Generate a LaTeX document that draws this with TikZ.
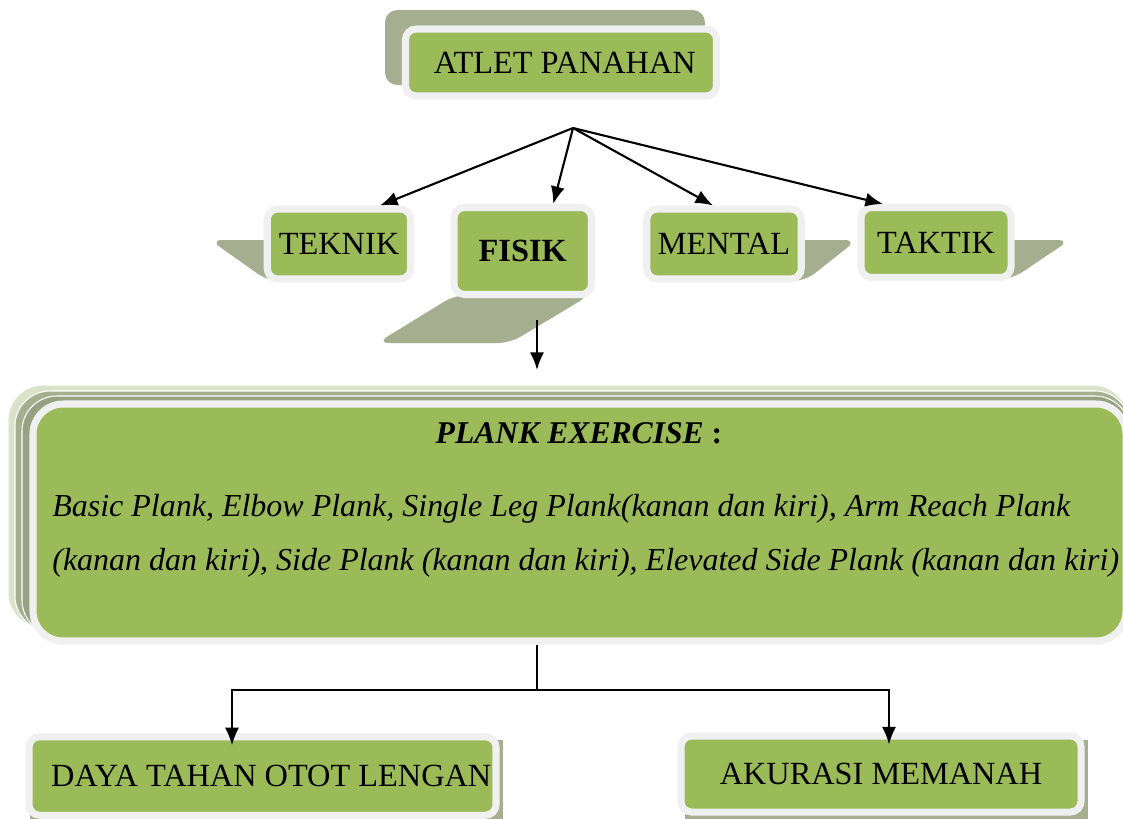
\documentclass[tikz,border=0pt]{standalone}
\usepackage{fontspec}
\setmainfont{Liberation Serif}
\usepackage{tikz}
\usetikzlibrary{arrows.meta}
\definecolor{leaf}{HTML}{9BBB59}
\definecolor{ring}{HTML}{F0F0F0}
\definecolor{moss}{HTML}{A5AE8F}
\definecolor{mossdark}{HTML}{98A283}
\definecolor{pale}{HTML}{DAE2C9}

\begin{document}
\begin{tikzpicture}[
	greenbox/.style={draw=ring, fill=leaf, line width=4pt, rounded corners=6pt, inner sep=0, align=center, font=\fontsize{18.4}{22}\selectfont},
	shadowfill/.style={fill=moss, rounded corners=7pt},
	layer/.style={draw=white, line width=0.6pt, rounded corners=0.7cm},
	arr/.style={-{Latex[length=10pt,width=8pt]}, line width=1.2pt}
]
\useasboundingbox (0,0) rectangle (22.46,-16.36);

% shadows behind the boxes
\fill[shadowfill] (7.7,-0.2) rectangle (14.1,-1.7);
\fill[shadowfill] (4.2,-4.8) -- (8.0,-4.8) -- (8.2,-5.62) -- (5.36,-5.62) -- cycle;
\fill[shadowfill] (9.1,-5.9) -- (11.8,-5.9) -- (10.2,-6.86) -- (7.54,-6.86) -- cycle;
\fill[shadowfill] (13.6,-4.8) -- (17.14,-4.8) -- (16.1,-5.62) -- (13.2,-5.62) -- cycle;
\fill[shadowfill] (17.8,-4.8) -- (21.4,-4.8) -- (20.24,-5.58) -- (17.5,-5.58) -- cycle;
\fill[moss] (0.6,-14.8) rectangle (10.05,-16.45);
\fill[moss] (13.7,-14.8) rectangle (21.76,-16.45);

% stacked layers behind plank box
\filldraw[layer, fill=pale] (0.16,-7.70) rectangle (22.56,-12.56);
\filldraw[layer, fill=moss] (0.30,-7.82) rectangle (22.60,-12.62);
\filldraw[layer, fill=mossdark] (0.44,-7.92) rectangle (22.60,-12.70);

\node[greenbox, minimum width=6.22cm, minimum height=1.34cm] (atlet) at (11.22,-1.25) {\hspace{0.15cm}ATLET PANAHAN};

\node[greenbox, minimum width=2.87cm, minimum height=1.40cm] (teknik) at (6.78,-4.88) {TEKNIK};
\node[greenbox, minimum width=2.75cm, minimum height=1.74cm, font=\fontsize{18.4}{22}\selectfont\bfseries] (fisik) at (10.455,-5.02) {FISIK};
\node[greenbox, minimum width=3.09cm, minimum height=1.40cm] (mental) at (14.48,-4.88) {MENTAL};
\node[greenbox, minimum width=3.0cm, minimum height=1.40cm] (taktik) at (18.72,-4.85) {TAKTIK};

\node[greenbox, rounded corners=0.6cm, minimum width=21.86cm, minimum height=4.74cm] (plank) at (11.59,-10.45) {};
\node[font=\fontsize{18}{20}\selectfont] (planktitle) at (11.58,-8.66) {\textbf{\textit{PLANK EXERCISE}} \textbf{:}};
\node[anchor=west, align=left, inner sep=0, font=\fontsize{18.2}{30.6}\selectfont\itshape] (plankbody) at (1.04,-10.72)
	{Basic Plank, Elbow Plank, Single Leg Plank(kanan dan kiri), Arm Reach Plank\\
	(kanan dan kiri), Side Plank (kanan dan kiri), Elevated Side Plank (kanan dan kiri)};

\node[greenbox, minimum width=9.34cm, minimum height=1.57cm] (daya) at (5.25,-15.52) {\hspace{0.35cm}DAYA TAHAN OTOT LENGAN};
\node[greenbox, minimum width=8.0cm, minimum height=1.52cm] (akurasi) at (17.62,-15.48) {AKURASI MEMANAH};

% connectors
\coordinate (split) at (11.46,-2.56);
\draw[arr] (split) -- ([xshift=0.82cm]teknik.north);
\draw[arr] (split) -- ([xshift=0.61cm]fisik.north);
\draw[arr] (split) -- ([xshift=-0.22cm]mental.north);
\draw[arr] (split) -- ([xshift=-1.06cm]taktik.north);

\coordinate (fdrop) at (10.74,-6.4);
\coordinate (fend) at (10.74,-7.4);
\draw[arr] (fdrop) -- (fend);

\coordinate (fork) at (10.74,-13.8);
\draw[line width=1.2pt] (fdrop |- plank.south) -- (fork);
\draw[arr] (fork) -| ([xshift=-0.61cm,yshift=-0.24cm]daya.north);
\draw[arr] (fork) -| ([xshift=0.16cm,yshift=-0.24cm]akurasi.north);
\end{tikzpicture}
\end{document}
